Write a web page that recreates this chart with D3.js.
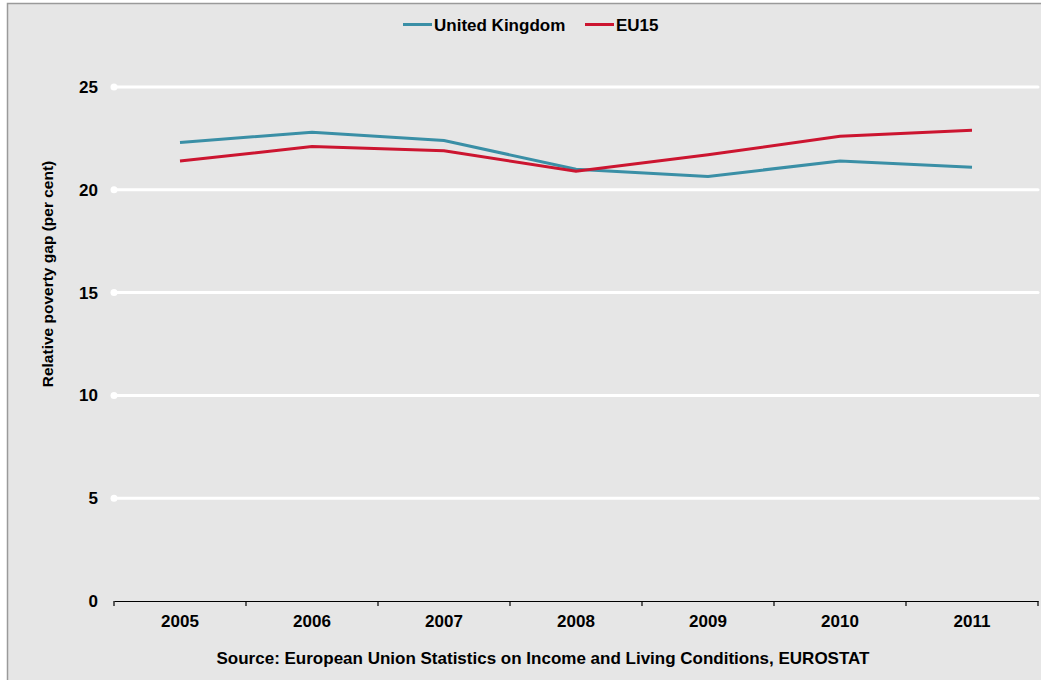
<!DOCTYPE html>
<html><head><meta charset="utf-8">
<script src="https://cdn.jsdelivr.net/npm/d3@7"></script>
<style>body{margin:0;background:#fff}svg{display:block}text{font-family:Arial,"Liberation Sans",sans-serif;font-weight:bold;fill:#000}</style>
</head><body><svg id="c" width="1041" height="680"></svg>
<script>
const years = ["2005","2006","2007","2008","2009","2010","2011"];
const ukValues = [22.3, 22.8, 22.4, 21.0, 20.65, 21.4, 21.1];
const eu15Values = [21.4, 22.1, 21.9, 20.9, 21.7, 22.6, 22.9];
const yTicks = [0, 5, 10, 15, 20, 25];
const seriesNames = ["United Kingdom", "EU15"];
const colors = ["#3a8fa6", "#cc1530"];

(function(){
const svg = d3.select("#c");
svg.append("rect").attr("x",7.5).attr("y",3.5).attr("width",1040).attr("height",690)
  .attr("fill","#e6e6e6").attr("stroke","#9a9a9a").attr("stroke-width",1.5);

const pl = 114, pr = 1038, pt = 87, pb = 601;
const x = d3.scaleBand().domain(years).range([pl, pr]);
const y = d3.scaleLinear().domain([0, 25]).range([pb, pt]);
const fs = "17px";

// gridlines
svg.append("g").selectAll("line").data(yTicks.filter(d => d > 0)).join("line")
  .attr("x1", pl).attr("x2", pr).attr("y1", d => y(d)).attr("y2", d => y(d))
  .attr("stroke", "#fff").attr("stroke-width", 3).attr("stroke-linecap","round");
svg.append("g").selectAll("circle").data(yTicks.filter(d => d > 0)).join("circle")
  .attr("cx", pl).attr("cy", d => y(d)).attr("r", 3.5).attr("fill", "#fff");

// y labels
svg.append("g").selectAll("text").data(yTicks).join("text")
  .attr("x", 98).attr("y", d => y(d)).attr("dy", "0.35em").attr("text-anchor","end")
  .style("font-size",fs).text(d => d);

// x axis
const xAxis = d3.axisBottom(x).tickSize(0).tickFormat(d => d);
const gx = svg.append("g").attr("transform", `translate(0,${pb})`).call(xAxis);
gx.select(".domain").attr("stroke","#000").attr("stroke-width",1.2);
gx.selectAll("text").attr("y", 20).attr("dy","0.35em").style("font-size",fs)
  .style("font-family","Arial,'Liberation Sans',sans-serif").style("font-weight","bold").attr("fill","#000");
const bounds = years.map(d => x(d)).concat([pr]);
svg.append("g").selectAll("line").data(bounds).join("line")
  .attr("x1", d => d).attr("x2", d => d).attr("y1", pb).attr("y2", pb + 5)
  .attr("stroke","#000").attr("stroke-width",1.2);

// lines
const line = d3.line().x((d,i) => x(years[i]) + x.bandwidth()/2).y(d => y(d));
[ukValues, eu15Values].forEach((vals, i) => {
  svg.append("path").datum(vals).attr("d", line).attr("fill","none")
    .attr("stroke", colors[i]).attr("stroke-width", 3);
});

// y title
svg.append("text").attr("transform","translate(53,274) rotate(-90)").attr("text-anchor","middle")
  .style("font-size","15.5px").text("Relative poverty gap (per cent)");

// legend
const legX = [403, 585];
seriesNames.forEach((n, i) => {
  svg.append("line").attr("x1", legX[i]).attr("x2", legX[i] + 29).attr("y1", 24.5).attr("y2", 24.5)
    .attr("stroke", colors[i]).attr("stroke-width", 3);
  svg.append("text").attr("x", legX[i] + 31).attr("y", 25).attr("dy","0.35em").style("font-size",fs).text(n);
});

// source
svg.append("text").attr("x", 543).attr("y", 658).attr("dy","0.35em").attr("text-anchor","middle")
  .style("font-size",fs).text("Source: European Union Statistics on Income and Living Conditions, EUROSTAT");
})();
</script></body></html>
